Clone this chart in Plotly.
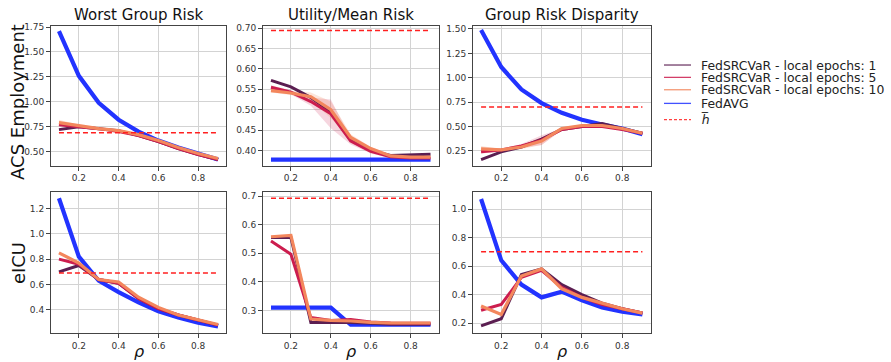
import plotly.graph_objects as go
from plotly.subplots import make_subplots

rho = [0.1, 0.2, 0.3, 0.4, 0.5, 0.6, 0.7, 0.8, 0.9]
col_titles = ["Worst Group Risk", "Utility/Mean Risk", "Group Risk Disparity"]
row_titles = ["ACS Employment", "eICU"]
series_names = ["FedSRCVaR - local epochs: 1", "FedSRCVaR - local epochs: 5",
                "FedSRCVaR - local epochs: 10", "FedAVG"]
hbar_name = "<i>h\u0305</i>"

# ---- ACS Employment ----
acs_worst_e1 = [0.72, 0.75, 0.73, 0.71, 0.66, 0.60, 0.53, 0.47, 0.42]
acs_worst_e5 = [0.77, 0.75, 0.73, 0.70, 0.66, 0.60, 0.53, 0.47, 0.42]
acs_worst_e10 = [0.79, 0.76, 0.73, 0.71, 0.67, 0.61, 0.54, 0.48, 0.43]
acs_worst_avg = [1.71, 1.26, 0.99, 0.82, 0.70, 0.61, 0.54, 0.48, 0.42]
acs_worst_e5_sd = [0.01, 0.005, 0.005, 0.005, 0.005, 0.005, 0.005, 0.005, 0.005]
acs_worst_e10_sd = [0.03, 0.01, 0.005, 0.005, 0.005, 0.005, 0.005, 0.005, 0.005]
acs_worst_h = 0.69

acs_util_e1 = [0.572, 0.556, 0.530, 0.495, 0.425, 0.400, 0.388, 0.389, 0.391]
acs_util_e5 = [0.555, 0.543, 0.520, 0.490, 0.423, 0.398, 0.385, 0.382, 0.382]
acs_util_e10 = [0.547, 0.541, 0.532, 0.500, 0.432, 0.405, 0.387, 0.384, 0.384]
acs_util_avg = [0.378, 0.378, 0.378, 0.378, 0.378, 0.378, 0.378, 0.378, 0.378]
acs_util_e5_sd = [0.005, 0.005, 0.01, 0.035, 0.008, 0.005, 0.003, 0.002, 0.002]
acs_util_e10_sd = [0.005, 0.005, 0.01, 0.02, 0.008, 0.004, 0.003, 0.002, 0.002]
acs_util_h = 0.694

acs_disp_e1 = [0.16, 0.24, 0.29, 0.37, 0.47, 0.50, 0.53, 0.48, 0.43]
acs_disp_e5 = [0.24, 0.26, 0.30, 0.36, 0.47, 0.50, 0.50, 0.47, 0.43]
acs_disp_e10 = [0.27, 0.26, 0.29, 0.35, 0.48, 0.51, 0.51, 0.48, 0.43]
acs_disp_avg = [1.49, 1.11, 0.88, 0.74, 0.64, 0.57, 0.52, 0.48, 0.42]
acs_disp_e5_sd = [0.02, 0.01, 0.02, 0.05, 0.01, 0.01, 0.01, 0.01, 0.005]
acs_disp_e10_sd = [0.03, 0.01, 0.02, 0.04, 0.01, 0.01, 0.01, 0.01, 0.005]
acs_disp_h = 0.70

# ---- eICU ----
icu_worst_e1 = [0.70, 0.75, 0.64, 0.61, 0.49, 0.41, 0.36, 0.32, 0.28]
icu_worst_e5 = [0.80, 0.76, 0.64, 0.61, 0.49, 0.41, 0.36, 0.32, 0.28]
icu_worst_e10 = [0.85, 0.77, 0.64, 0.62, 0.50, 0.42, 0.36, 0.32, 0.285]
icu_worst_avg = [1.28, 0.82, 0.63, 0.54, 0.46, 0.39, 0.34, 0.30, 0.27]
icu_worst_h = 0.69

icu_util_e1 = [0.555, 0.555, 0.258, 0.258, 0.258, 0.255, 0.252, 0.252, 0.252]
icu_util_e5 = [0.543, 0.497, 0.275, 0.265, 0.268, 0.260, 0.256, 0.255, 0.255]
icu_util_e10 = [0.558, 0.563, 0.270, 0.265, 0.263, 0.258, 0.256, 0.256, 0.256]
icu_util_avg = [0.31, 0.31, 0.31, 0.31, 0.25, 0.25, 0.25, 0.25, 0.25]
icu_util_h = 0.693

icu_disp_e1 = [0.18, 0.23, 0.54, 0.58, 0.47, 0.40, 0.34, 0.30, 0.27]
icu_disp_e5 = [0.29, 0.33, 0.52, 0.57, 0.45, 0.38, 0.33, 0.30, 0.27]
icu_disp_e10 = [0.32, 0.26, 0.53, 0.58, 0.44, 0.38, 0.34, 0.30, 0.27]
icu_disp_avg = [1.07, 0.64, 0.47, 0.38, 0.42, 0.36, 0.31, 0.28, 0.26]
icu_disp_h = 0.70

x_ticks = [0.2, 0.4, 0.6, 0.8]

panels = [
    # (row, col, e1, e5, e10, avg, h, e5_sd, e10_sd, yrange, ytick0, dtick, fmt)
    (1, 1, acs_worst_e1, acs_worst_e5, acs_worst_e10, acs_worst_avg, acs_worst_h,
     acs_worst_e5_sd, acs_worst_e10_sd, [0.358, 1.756], 0.5, 0.25, ".2f"),
    (1, 2, acs_util_e1, acs_util_e5, acs_util_e10, acs_util_avg, acs_util_h,
     acs_util_e5_sd, acs_util_e10_sd, [0.363, 0.704], 0.40, 0.05, ".2f"),
    (1, 3, acs_disp_e1, acs_disp_e5, acs_disp_e10, acs_disp_avg, acs_disp_h,
     acs_disp_e5_sd, acs_disp_e10_sd, [0.098, 1.526], 0.25, 0.25, ".2f"),
    (2, 1, icu_worst_e1, icu_worst_e5, icu_worst_e10, icu_worst_avg, icu_worst_h,
     None, None, [0.218, 1.33], 0.4, 0.2, ".1f"),
    (2, 2, icu_util_e1, icu_util_e5, icu_util_e10, icu_util_avg, icu_util_h,
     None, None, [0.221, 0.715], 0.3, 0.1, ".1f"),
    (2, 3, icu_disp_e1, icu_disp_e5, icu_disp_e10, icu_disp_avg, icu_disp_h,
     None, None, [0.13, 1.12], 0.2, 0.2, ".1f"),
]

C_E1 = "#5b1e51"
C_E5 = "#cc1d4e"
C_E10 = "#f3875d"
C_AVG = "#2233ff"
C_H = "#ff2020"
band_fill = {C_E5: "rgba(204,29,78,0.18)", C_E10: "rgba(243,135,93,0.22)"}

W, H = 891, 362


def fx(px):
    return px / W


def fy(py):
    return 1 - py / H


col_px = [(51, 226), (263, 438.5), (473, 650.5)]
row_px = [(22.7, 163.5), (190, 332.7)]

fig = make_subplots(rows=2, cols=3)

FONT = "DejaVu Sans"

for (r, c, e1, e5, e10, avg, h, e5sd, e10sd, yr, y0, dy, fmt) in panels:
    # uncertainty bands
    for vals, sd, col in ((e5, e5sd, C_E5), (e10, e10sd, C_E10)):
        if sd is None:
            continue
        upper = [v + s for v, s in zip(vals, sd)]
        lower = [v - s for v, s in zip(vals, sd)]
        fig.add_trace(go.Scatter(x=rho, y=upper, mode="lines", line=dict(width=0),
                                 showlegend=False, hoverinfo="skip"), row=r, col=c)
        fig.add_trace(go.Scatter(x=rho, y=lower, mode="lines", line=dict(width=0),
                                 fill="tonexty", fillcolor=band_fill[col],
                                 showlegend=False, hoverinfo="skip"), row=r, col=c)
    fig.add_trace(go.Scatter(x=rho, y=avg, mode="lines", name=series_names[3],
                             line=dict(color=C_AVG, width=4.2), showlegend=False),
                  row=r, col=c)
    for vals, col, nm, wd in ((e1, C_E1, series_names[0], 3),
                              (e5, C_E5, series_names[1], 3),
                              (e10, C_E10, series_names[2], 3.2)):
        fig.add_trace(go.Scatter(x=rho, y=vals, mode="lines", name=nm,
                                 line=dict(color=col, width=wd), showlegend=False),
                      row=r, col=c)
    fig.add_trace(go.Scatter(x=rho, y=[h] * len(rho), mode="lines", name=hbar_name,
                             line=dict(color=C_H, width=1.5, dash="5px,3px"),
                             showlegend=False), row=r, col=c)

    ydom = [fy(row_px[r - 1][1]), fy(row_px[r - 1][0])]
    xdom = [fx(col_px[c - 1][0]), fx(col_px[c - 1][1])]
    common = dict(showline=True, linecolor="#444444", linewidth=1, mirror=True,
                  showgrid=True, gridcolor="#d3d3d3", gridwidth=1, zeroline=False,
                  ticks="outside", ticklen=4, tickcolor="#444444",
                  tickfont=dict(family=FONT, size=9, color="#333333"))
    fig.update_xaxes(range=[0.06, 0.94], tickvals=x_ticks,
                     ticktext=[f"{v:.1f}" for v in x_ticks], domain=xdom,
                     row=r, col=c, **common)
    fig.update_yaxes(range=yr, tick0=y0, dtick=dy, tickformat=fmt, domain=ydom,
                     row=r, col=c, **common)

annotations = []
for i, t in enumerate(col_titles):
    cxp = (col_px[i][0] + col_px[i][1]) / 2
    annotations.append(dict(text=t, x=fx(cxp), y=fy(11), xref="paper", yref="paper",
                            xanchor="center", yanchor="middle", borderpad=0,
                            showarrow=False,
                            font=dict(family=FONT, size=15, color="#111111")))
    annotations.append(dict(text="<i>ρ</i>", x=fx(cxp), y=0.5 / H, xref="paper",
                            yref="paper", xanchor="center", yanchor="bottom",
                            borderpad=0, showarrow=False,
                            font=dict(family=FONT, size=16, color="#111111")))
row_centers = [99, 262]
for t, cy in zip(row_titles, row_centers):
    annotations.append(dict(text=t, x=fx(18), y=fy(cy), xref="paper", yref="paper",
                            xanchor="center", yanchor="middle", textangle=-90,
                            showarrow=False,
                            font=dict(family=FONT, size=18, color="#111111")))

# legend (drawn as text + short sample lines)
legend_items = [(series_names[0], C_E1, "solid"), (series_names[1], C_E5, "solid"),
                (series_names[2], C_E10, "solid"), (series_names[3], C_AVG, "solid"),
                (hbar_name, C_H, "3px,2px")]
legend_rows = [61.7, 74.2, 86.7, 100.5, 117.0]
shapes = []
for (txt, col, dash), ry in zip(legend_items, legend_rows):
    shapes.append(dict(type="line", xref="paper", yref="paper",
                       x0=fx(664), x1=fx(691), y0=fy(ry), y1=fy(ry),
                       line=dict(color=col, width=1.3, dash=dash), opacity=0.85))
    annotations.append(dict(text=txt, x=fx(700), y=fy(ry), xref="paper",
                            yref="paper", xanchor="left", yanchor="middle",
                            borderpad=0, showarrow=False,
                            font=dict(family=FONT, size=12.4, color="#222222")))

fig.update_layout(width=W, height=H, margin=dict(l=0, r=0, t=0, b=0),
                  paper_bgcolor="white", plot_bgcolor="white", showlegend=False,
                  annotations=annotations, shapes=shapes,
                  font=dict(family=FONT))

# remove the browser's default 8px body margin so the figure sits at (0, 0)
fig.write_html("out.html", config={"displayModeBar": False},
               post_script="document.body.style.margin='0px';"
                           "document.body.style.overflow='hidden';")
